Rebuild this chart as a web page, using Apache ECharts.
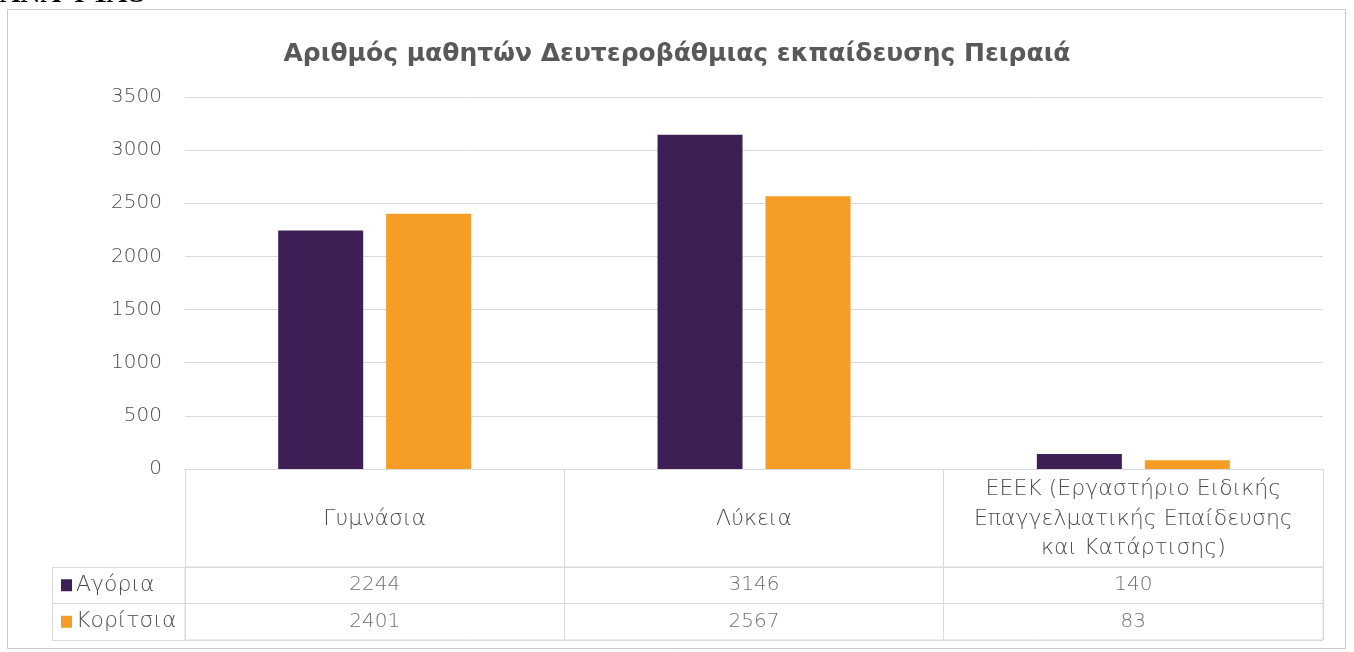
<!DOCTYPE html>
<html>
<head>
<meta charset="utf-8">
<script src="https://cdn.jsdelivr.net/npm/echarts@6/dist/echarts.min.js"></script>
<style>
  html, body { margin: 0; padding: 0; background: #fff; }
  #chart { width: 1354px; height: 652px; }
</style>
</head>
<body>
<div id="chart"></div>
<script>
// Secondary education students in Piraeus, by school type and gender
const categories = [
  'Γυμνάσια',
  'Λύκεια',
  'ΕΕΕΚ (Εργαστήριο Ειδικής\nΕπαγγελματικής Επαίδευσης\nκαι Κατάρτισης)'
];
const seriesNames = ['Αγόρια', 'Κορίτσια'];
const boys = [2244, 3146, 140];
const girls = [2401, 2567, 83];
const yTicks = { min: 0, max: 3500, interval: 500 };

const PURPLE = '#3e1f55';
const ORANGE = '#f59d25';
const TEXT = '#595959';
const LABEL = '#4d4d4d';
const LINE = '#d9d9d9';
const FONT = '"DejaVu Sans", sans-serif';
const WEIGHT = 200;

// table body cells: [column, row, value]
const tableCells = [];
boys.forEach((v, i) => tableCells.push([i, seriesNames[0], v]));
girls.forEach((v, i) => tableCells.push([i, seriesNames[1], v]));

const chart = echarts.init(document.getElementById('chart'));
chart.setOption({
  backgroundColor: '#fff',
  animation: false,
  title: {
    text: 'Αριθμός μαθητών Δευτεροβάθμιας εκπαίδευσης Πειραιά',
    left: 'center',
    top: 37,
    textStyle: { fontFamily: '"DejaVu Sans", sans-serif', fontWeight: 'bold', fontSize: 25, color: TEXT }
  },
  graphic: [
    {
      type: 'rect',
      shape: { x: 7.5, y: 9.5, width: 1338, height: 639 },
      style: { fill: null, stroke: '#c8c8c8', lineWidth: 1 },
      silent: true
    },
    {
      type: 'text',
      x: 0,
      y: 8.5,
      style: {
        text: 'ΑΝΑ ΦΥΛΟ',
        font: 'bold 28px "Liberation Serif", serif',
        fill: '#000',
        verticalAlign: 'bottom'
      },
      silent: true
    }
  ],
  grid: [
    { left: 185, right: 31, top: 97, bottom: 183 },
    { left: 185, right: 31, top: 567, bottom: 12, show: true, borderColor: LINE, borderWidth: 1 }
  ],
  xAxis: [
    {
      type: 'category',
      gridIndex: 0,
      data: categories,
      axisLine: { show: true, lineStyle: { color: LINE } },
      axisTick: { show: true, length: 98, lineStyle: { color: LINE } },
      axisLabel: {
        margin: 50,
        verticalAlign: 'middle',
        lineHeight: 29.5,
        fontFamily: FONT,
        fontWeight: WEIGHT,
        fontSize: 22,
        color: LABEL,
        interval: 0
      }
    },
    {
      type: 'category',
      gridIndex: 1,
      data: categories,
      axisLine: { show: false },
      axisTick: { show: false },
      axisLabel: { show: false },
      splitLine: { show: true, lineStyle: { color: LINE } }
    }
  ],
  yAxis: [
    {
      type: 'value',
      gridIndex: 0,
      min: yTicks.min,
      max: yTicks.max,
      interval: yTicks.interval,
      axisLine: { show: false },
      axisTick: { show: false },
      axisLabel: {
        margin: 23,
        fontFamily: FONT,
        fontWeight: WEIGHT,
        fontSize: 20,
        color: LABEL,
        formatter: (v) => String(v)
      },
      splitLine: { lineStyle: { color: LINE } }
    },
    {
      type: 'category',
      gridIndex: 1,
      data: seriesNames,
      inverse: true,
      position: 'left',
      offset: 133,
      axisLine: { show: true, lineStyle: { color: LINE } },
      axisTick: { show: true, inside: true, length: 133, lineStyle: { color: LINE } },
      axisLabel: {
        inside: true,
        margin: 9,
        fontFamily: FONT,
        fontWeight: WEIGHT,
        fontSize: 22,
        color: LABEL,
        formatter: (v) => (v === seriesNames[0] ? '{a|}' : '{b|}') + '{s|}' + v,
        rich: {
          a: { width: 11, height: 12, backgroundColor: PURPLE },
          b: { width: 11, height: 12, backgroundColor: ORANGE },
          s: { width: 4 }
        }
      },
      splitLine: { show: true, lineStyle: { color: LINE } }
    }
  ],
  series: [
    {
      name: seriesNames[0],
      type: 'bar',
      xAxisIndex: 0,
      yAxisIndex: 0,
      data: boys,
      barWidth: 85,
      barGap: '27%',
      itemStyle: { color: PURPLE }
    },
    {
      name: seriesNames[1],
      type: 'bar',
      xAxisIndex: 0,
      yAxisIndex: 0,
      data: girls,
      barWidth: 85,
      barGap: '27%',
      itemStyle: { color: ORANGE }
    },
    {
      type: 'scatter',
      xAxisIndex: 1,
      yAxisIndex: 1,
      symbolSize: 0,
      data: tableCells,
      silent: true,
      label: {
        show: true,
        position: 'inside',
        formatter: (p) => String(p.value[2]),
        fontFamily: FONT,
        fontWeight: WEIGHT,
        fontSize: 20,
        color: LABEL
      }
    }
  ]
});
</script>
</body>
</html>
